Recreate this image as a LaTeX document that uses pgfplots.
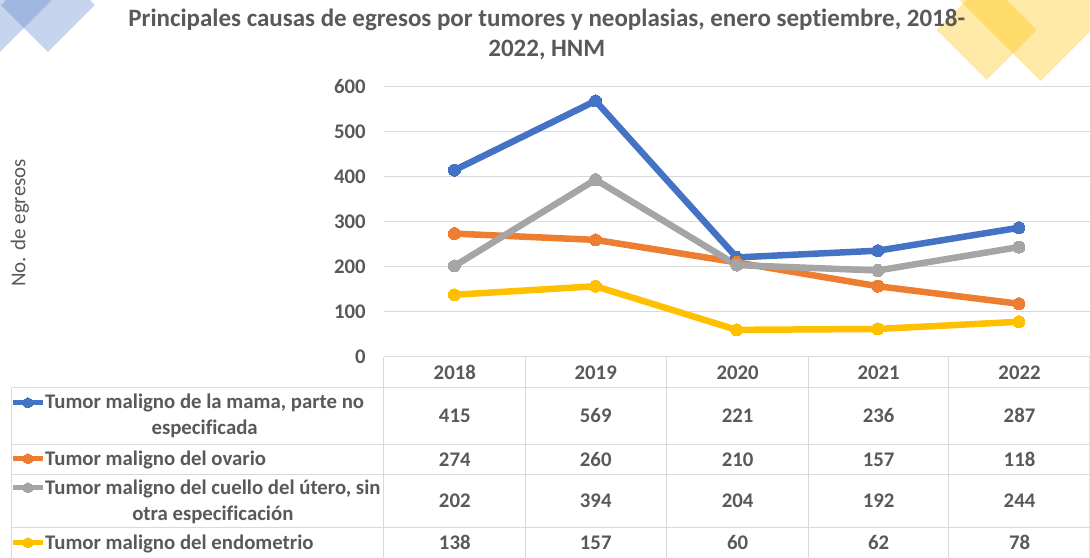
\documentclass[border=0pt]{standalone}
\usepackage{fontspec}
\setmainfont{Carlito}[Ligatures=NoCommon]
\usepackage{pgfplots}
\pgfplotsset{compat=1.18}
\usepackage{pgfplotstable}
\definecolor{cblue}{HTML}{4472C4}
\definecolor{corange}{HTML}{ED7D31}
\definecolor{cgray}{HTML}{A5A5A5}
\definecolor{cyellow}{HTML}{FFC000}
\definecolor{txt}{HTML}{595959}
\definecolor{gridc}{HTML}{D9D9D9}
\pgfplotstableread{
x mama ovario cuello endo
0 415 274 202 138
1 569 260 394 157
2 221 210 204 60
3 236 157 192 62
4 287 118 244 78
}\datatab
\newcommand\tf{\fontsize{20.8}{26}\selectfont\bfseries}
\begin{document}
\begin{tikzpicture}
% overlay in pixel coordinates
\begin{axis}[at={(0pt,-558pt)}, anchor=south west, width=1090pt, height=558pt,
  scale only axis, xmin=0, xmax=1090, ymin=0, ymax=558, y dir=reverse,
  hide axis, clip=true]
  % decorations
  \fill[cblue, fill opacity=0.3] (axis cs:-52,0) -- (axis cs:0,-52) -- (axis cs:52,0) -- (axis cs:0,52) -- cycle;
  \fill[cblue, fill opacity=0.3] (axis cs:1,5) -- (axis cs:48,-42) -- (axis cs:95,5) -- (axis cs:48,52) -- cycle;
  \fill[cyellow, fill opacity=0.35] (axis cs:937,30) -- (axis cs:987,-20) -- (axis cs:1037,30) -- (axis cs:987,80) -- cycle;
  \fill[cyellow, fill opacity=0.35] (axis cs:960,0) -- (axis cs:1041,-81) -- (axis cs:1122,0) -- (axis cs:1041,81) -- cycle;
  % table grid
  \draw[gridc, line width=1pt] (axis cs:12,388) -- (axis cs:1090,388);
  \draw[gridc, line width=1pt] (axis cs:12,445) -- (axis cs:1090,445);
  \draw[gridc, line width=1pt] (axis cs:12,475) -- (axis cs:1090,475);
  \draw[gridc, line width=1pt] (axis cs:12,528) -- (axis cs:1090,528);
  \draw[gridc, line width=1pt] (axis cs:12,388) -- (axis cs:12,558);
  \draw[gridc, line width=1pt] (axis cs:384,357) -- (axis cs:384,558);
  \draw[gridc, line width=1pt] (axis cs:526,357) -- (axis cs:526,558);
  \draw[gridc, line width=1pt] (axis cs:667,357) -- (axis cs:667,558);
  \draw[gridc, line width=1pt] (axis cs:809,357) -- (axis cs:809,558);
  \draw[gridc, line width=1pt] (axis cs:949,357) -- (axis cs:949,558);
  \draw[gridc, line width=1pt] (axis cs:1089.5,357) -- (axis cs:1089.5,558);
  % header
  \node[font=\tf, text=txt] at (axis cs:455,373) {2018};
  \node[font=\tf, text=txt] at (axis cs:596,373) {2019};
  \node[font=\tf, text=txt] at (axis cs:738,373) {2020};
  \node[font=\tf, text=txt] at (axis cs:879,373) {2021};
  \node[font=\tf, text=txt] at (axis cs:1020,373) {2022};
  % values
  \node[font=\tf, text=txt] at (axis cs:455,416) {415};
  \node[font=\tf, text=txt] at (axis cs:596,416) {569};
  \node[font=\tf, text=txt] at (axis cs:738,416) {221};
  \node[font=\tf, text=txt] at (axis cs:879,416) {236};
  \node[font=\tf, text=txt] at (axis cs:1020,416) {287};
  \node[font=\tf, text=txt] at (axis cs:455,460) {274};
  \node[font=\tf, text=txt] at (axis cs:596,460) {260};
  \node[font=\tf, text=txt] at (axis cs:738,460) {210};
  \node[font=\tf, text=txt] at (axis cs:879,460) {157};
  \node[font=\tf, text=txt] at (axis cs:1020,460) {118};
  \node[font=\tf, text=txt] at (axis cs:455,501) {202};
  \node[font=\tf, text=txt] at (axis cs:596,501) {394};
  \node[font=\tf, text=txt] at (axis cs:738,501) {204};
  \node[font=\tf, text=txt] at (axis cs:879,501) {192};
  \node[font=\tf, text=txt] at (axis cs:1020,501) {244};
  \node[font=\tf, text=txt] at (axis cs:455,543) {138};
  \node[font=\tf, text=txt] at (axis cs:596,543) {157};
  \node[font=\tf, text=txt] at (axis cs:738,543) {60};
  \node[font=\tf, text=txt] at (axis cs:879,543) {62};
  \node[font=\tf, text=txt] at (axis cs:1020,543) {78};
  % row labels
  \node[font=\tf, text=txt, anchor=west, align=center, inner sep=0pt] at (axis cs:45,416) {Tumor maligno de la mama, parte no\\especificada};
  \node[font=\tf, text=txt, anchor=west, align=center, inner sep=0pt] at (axis cs:45,460) {Tumor maligno del ovario};
  \node[font=\tf, text=txt, anchor=west, align=center, inner sep=0pt] at (axis cs:45,502) {Tumor maligno del cuello del útero, sin\\otra especificación};
  \node[font=\tf, text=txt, anchor=west, align=center, inner sep=0pt] at (axis cs:45,544) {Tumor maligno del endometrio};
  % legend keys
  \addplot[cblue, line width=5pt, mark=*, mark size=5pt, mark indices={2}, mark options={line width=0pt, fill=cblue}] coordinates {(13,403) (28,403) (43,403)};
  \addplot[corange, line width=5pt, mark=*, mark size=5pt, mark indices={2}, mark options={line width=0pt, fill=corange}] coordinates {(13,459) (28,459) (43,459)};
  \addplot[cgray, line width=5pt, mark=*, mark size=5pt, mark indices={2}, mark options={line width=0pt, fill=cgray}] coordinates {(13,488) (28,488) (43,488)};
  \addplot[cyellow, line width=5pt, mark=*, mark size=5pt, mark indices={2}, mark options={line width=0pt, fill=cyellow}] coordinates {(13,543) (28,543) (43,543)};
\end{axis}
% main chart
\begin{axis}[at={(384pt,-357pt)}, anchor=south west, width=706pt, height=270pt,
  scale only axis, xmin=-0.5, xmax=4.5, ymin=0, ymax=600,
  ytick={0,100,...,600}, xtick=\empty,
  ymajorgrids, grid style={gridc, line width=1pt},
  axis line style={draw=none}, major tick length=0pt,
  /pgf/number format/assume math mode=true,
  yticklabel style={font=\tf, text=txt, inner sep=0pt, xshift=-18pt},
  clip=false]
  \addplot[cblue, line width=6.5pt, line join=round, mark=*, mark size=6pt, mark options={fill=cblue, line width=0pt}] table[x=x, y=mama] {\datatab};
  \addplot[corange, line width=6.5pt, line join=round, mark=*, mark size=6pt, mark options={fill=corange, line width=0pt}] table[x=x, y=ovario] {\datatab};
  \addplot[cgray, line width=6.5pt, line join=round, mark=*, mark size=6pt, mark options={fill=cgray, line width=0pt}] table[x=x, y=cuello] {\datatab};
  \addplot[cyellow, line width=6.5pt, line join=round, mark=*, mark size=6pt, mark options={fill=cyellow, line width=0pt}] table[x=x, y=endo] {\datatab};
\end{axis}
\node[font=\fontsize{25}{30}\selectfont\bfseries, text=txt] at (547pt,-20pt) {Principales causas de egresos por tumores y neoplasias, enero septiembre, 2018-};
\node[font=\fontsize{25}{30}\selectfont\bfseries, text=txt] at (547pt,-50pt) {2022, HNM};
\node[font=\fontsize{21}{25}\selectfont, text=txt, rotate=90] at (20pt,-223pt) {No. de egresos};
\end{tikzpicture}
\end{document}
